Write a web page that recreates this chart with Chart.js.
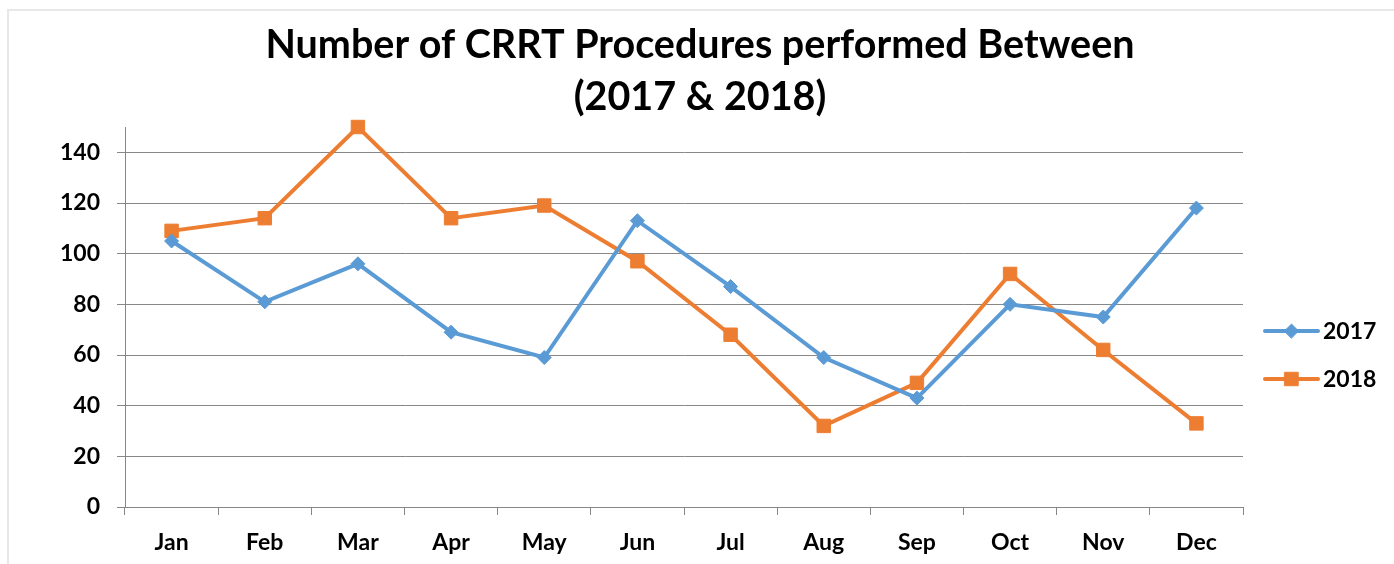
<!DOCTYPE html>
<html>
<head>
<meta charset="utf-8">
<script src="https://cdn.jsdelivr.net/npm/chart.js@4/dist/chart.umd.min.js"></script>
<style>
html,body{margin:0;padding:0;background:#fff;}
#wrap{position:relative;width:1394px;height:564px;}
canvas{display:block;}
</style>
</head>
<body>
<div id="wrap"><canvas id="c" width="1394" height="564"></canvas></div>
<script>
const months = ['Jan','Feb','Mar','Apr','May','Jun','Jul','Aug','Sep','Oct','Nov','Dec'];
const series2017 = [105, 81, 96, 69, 59, 113, 87, 59, 43, 80, 75, 118];
const series2018 = [109, 114, 150, 114, 119, 97, 68, 32, 49, 92, 62, 33];
const yTicks = [0, 20, 40, 60, 80, 100, 120, 140];
const titleLines = ['Number of CRRT Procedures performed Between', '(2017 & 2018)'];

const BLUE = '#5B9BD5';
const ORANGE = '#ED7D31';
const GRID = '#878787';
const FONT = 'Lato, "Open Sans", sans-serif';

const framePlugin = {
  id: 'frame',
  beforeDraw(chart) {
    const ctx = chart.ctx;
    ctx.save();
    ctx.fillStyle = '#ffffff';
    ctx.fillRect(0, 0, chart.width, chart.height);
    ctx.strokeStyle = '#e8e8e8';
    ctx.lineWidth = 2;
    ctx.beginPath();
    ctx.moveTo(8, chart.height);
    ctx.lineTo(8, 10);
    ctx.lineTo(chart.width, 10);
    ctx.stroke();
    ctx.restore();
  }
};

const legendPlugin = {
  id: 'sideLegend',
  afterDraw(chart) {
    const ctx = chart.ctx;
    const area = chart.chartArea;
    const x0 = area.right + 22;
    const lineLen = 53;
    const rowGap = 48;
    const ds = chart.data.datasets;
    const yMid = (area.top + area.bottom) / 2 + 38;
    const yStart = yMid - rowGap * (ds.length - 1) / 2;
    ctx.save();
    ds.forEach((d, i) => {
      const y = yStart + i * rowGap;
      ctx.strokeStyle = d.borderColor;
      ctx.lineWidth = d.borderWidth;
      ctx.lineCap = 'round';
      ctx.beginPath();
      ctx.moveTo(x0, y);
      ctx.lineTo(x0 + lineLen, y);
      ctx.stroke();
      ctx.fillStyle = d.pointBackgroundColor;
      ctx.strokeStyle = d.pointBorderColor;
      ctx.lineWidth = d.pointBorderWidth;
      Chart.helpers.drawPoint(ctx, {pointStyle: d.pointStyle, rotation: 0, radius: d.pointRadius, borderWidth: d.pointBorderWidth}, x0 + lineLen / 2, y);
      ctx.fillStyle = '#000';
      ctx.font = 'bold 23px ' + FONT;
      ctx.textBaseline = 'middle';
      ctx.textAlign = 'left';
      ctx.fillText(d.label, x0 + lineLen + 5, y + 1);
    });
    ctx.restore();
  }
};

new Chart(document.getElementById('c'), {
  type: 'line',
  data: {
    labels: months,
    datasets: [
      {
        label: '2017',
        data: series2017,
        borderColor: BLUE,
        backgroundColor: BLUE,
        borderWidth: 4,
        pointStyle: 'rectRot',
        pointRadius: 7,
        pointBackgroundColor: BLUE,
        pointBorderColor: BLUE,
        pointBorderWidth: 1,
        tension: 0,
        clip: false
      },
      {
        label: '2018',
        data: series2018,
        borderColor: ORANGE,
        backgroundColor: ORANGE,
        borderWidth: 4,
        pointStyle: 'rect',
        pointRadius: 9.5,
        pointBackgroundColor: ORANGE,
        pointBorderColor: ORANGE,
        pointBorderWidth: 1,
        tension: 0,
        clip: false
      }
    ]
  },
  options: {
    responsive: false,
    animation: false,
    devicePixelRatio: 1,
    layout: { padding: { left: 6, right: 0, top: 0, bottom: 7 } },
    plugins: {
      legend: { display: false },
      tooltip: { enabled: false },
      title: {
        display: true,
        text: titleLines,
        color: '#000',
        font: { family: FONT, size: 39.5, weight: 'bold', lineHeight: '52px' },
        padding: { top: 19, bottom: 4 }
      }
    },
    scales: {
      x: {
        offset: true,
        grid: { display: true, offset: true, drawOnChartArea: false, drawTicks: true, tickLength: 8, color: GRID, tickColor: GRID, lineWidth: 1 },
        border: { display: true, color: GRID, width: 1 },
        ticks: { color: '#000', padding: 14, font: { family: FONT, size: 23, weight: 'bold' }, maxRotation: 0, autoSkip: false },
        afterFit(scale) { scale.height = 50; }
      },
      y: {
        min: 0,
        max: 150,
        afterBuildTicks(scale) { scale.ticks = yTicks.map(v => ({ value: v })); },
        grid: { display: true, drawOnChartArea: true, drawTicks: true, tickLength: 8, color: GRID, tickColor: GRID, lineWidth: 1 },
        border: { display: true, color: GRID, width: 1 },
        ticks: { color: '#000', padding: 17, font: { family: FONT, size: 23, weight: 'bold' } },
        afterFit(scale) { scale.width = 119; }
      },
      legendSpace: {
        type: 'linear',
        position: 'right',
        display: true,
        grid: { display: false, drawOnChartArea: false },
        border: { display: false },
        ticks: { display: false },
        afterFit(scale) { scale.width = 151; }
      }
    }
  },
  plugins: [framePlugin, legendPlugin]
});
</script>
</body>
</html>
